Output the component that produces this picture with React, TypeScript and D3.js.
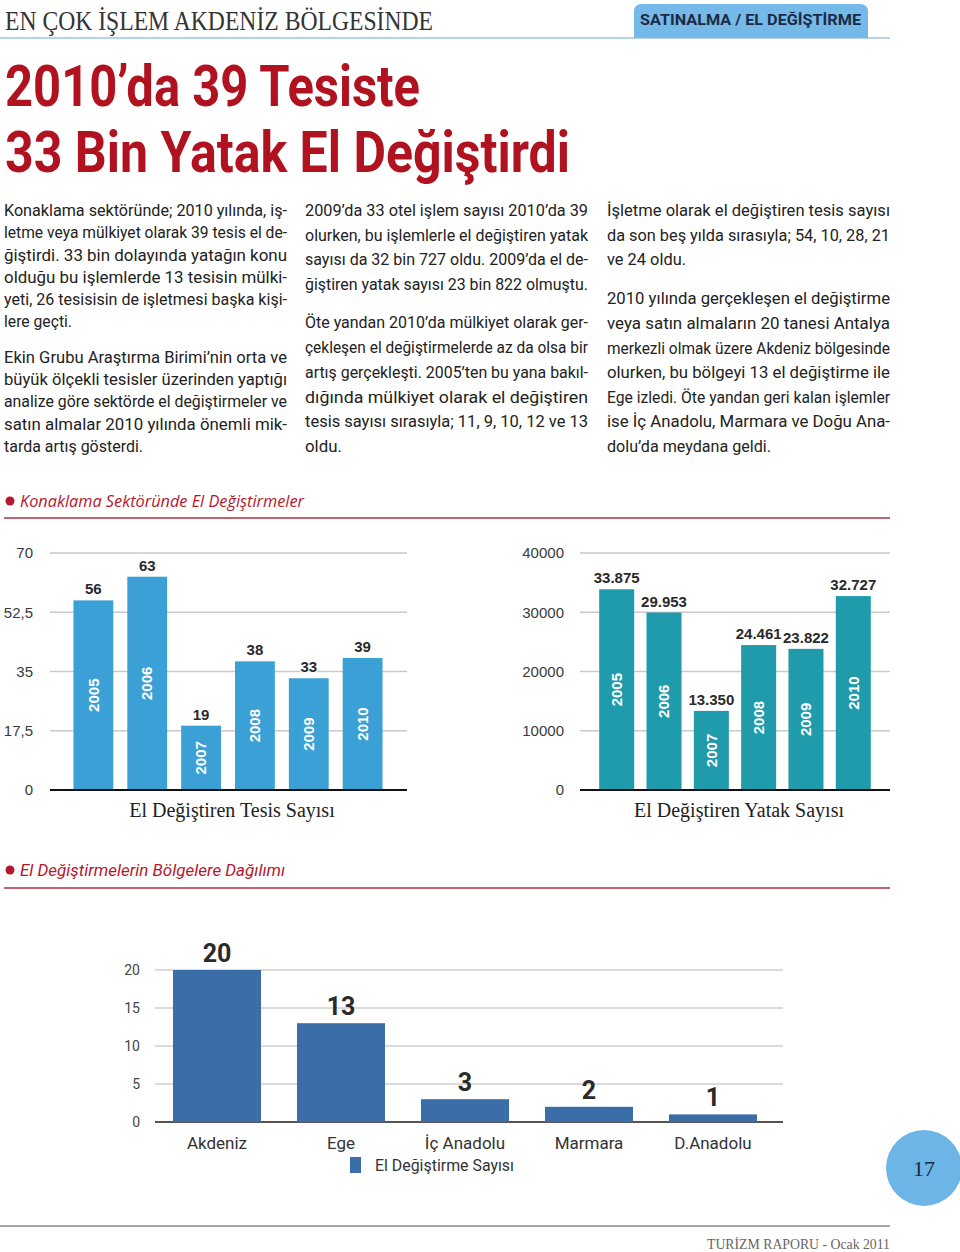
import React from "react";
import * as d3 from "d3";

// ---------- DATA ----------
const years = ["2005", "2006", "2007", "2008", "2009", "2010"];
const tesisValues = [56, 63, 19, 38, 33, 39];
const tesisTicks = [0, 17.5, 35, 52.5, 70];
const yatakValues = [33875, 29953, 13350, 24461, 23822, 32727];
const yatakTicks = [0, 10000, 20000, 30000, 40000];
const regions = ["Akdeniz", "Ege", "İç Anadolu", "Marmara", "D.Anadolu"];
const regionValues = [20, 13, 3, 2, 1];
const regionTicks = [0, 5, 10, 15, 20];

const trLocale = d3.formatLocale({ decimal: ",", thousands: ".", grouping: [3], currency: ["", ""] });
const fmtTick = trLocale.format("~f");
const fmtThousands = trLocale.format(",.0f");

// ---------- TEXT ----------
type Line = { t: string; w?: number };
const col1: Line[][] = [
  [
    { t: "Konaklama sektöründe; 2010 yılında, iş-" },
    { t: "letme veya mülkiyet olarak 39 tesis el de-" },
    { t: "ğiştirdi. 33 bin dolayında yatağın konu" },
    { t: "olduğu bu işlemlerde 13 tesisin mülki-" },
    { t: "yeti, 26 tesisisin de işletmesi başka kişi-" },
    { t: "lere geçti.", w: 68 },
  ],
  [
    { t: "Ekin Grubu Araştırma Birimi’nin orta ve" },
    { t: "büyük ölçekli tesisler üzerinden yaptığı" },
    { t: "analize göre sektörde el değiştirmeler ve" },
    { t: "satın almalar 2010 yılında önemli mik-" },
    { t: "tarda artış gösterdi.", w: 139 },
  ],
];
const col2: Line[][] = [
  [
    { t: "2009’da 33 otel işlem sayısı 2010’da 39" },
    { t: "olurken, bu işlemlerle el değiştiren yatak" },
    { t: "sayısı da 32 bin 727 oldu. 2009’da el de-" },
    { t: "ğiştiren yatak sayısı 23 bin 822 olmuştu." },
  ],
  [
    { t: "Öte yandan 2010’da mülkiyet olarak ger-" },
    { t: "çekleşen el değiştirmelerde az da olsa bir" },
    { t: "artış gerçekleşti. 2005’ten bu yana bakıl-" },
    { t: "dığında mülkiyet olarak el değiştiren" },
    { t: "tesis sayısı sırasıyla; 11, 9, 10, 12 ve 13" },
    { t: "oldu.", w: 37 },
  ],
];
const col3: Line[][] = [
  [
    { t: "İşletme olarak el değiştiren tesis sayısı" },
    { t: "da son beş yılda sırasıyla; 54, 10, 28, 21" },
    { t: "ve 24 oldu.", w: 79 },
  ],
  [
    { t: "2010 yılında gerçekleşen el değiştirme" },
    { t: "veya satın almaların 20 tanesi Antalya" },
    { t: "merkezli olmak üzere Akdeniz bölgesinde" },
    { t: "olurken, bu bölgeyi 13 el değiştirme ile" },
    { t: "Ege izledi. Öte yandan geri kalan işlemler" },
    { t: "ise İç Anadolu, Marmara ve Doğu Ana-" },
    { t: "dolu’da meydana geldi.", w: 164 },
  ],
];

const RED = "#b0131f";
const SEC_RED = "#b5172c";
const RULE_RED = "#c2646d";
const BODY_FONT = "'Liberation Sans Narrow', 'Roboto', sans-serif";
const CHART_FONT = "'Liberation Sans', Arial, sans-serif";
const SERIF = "'Liberation Serif', 'DejaVu Serif', serif";

function Column({ paras, x, width, baselines }: { paras: Line[][]; x: number; width: number; baselines: number[] }) {
  const lines = paras.flat();
  return (
    <g fontFamily={BODY_FONT} fontSize={16.5} fill="#222">
      {lines.map((l, i) => (
        <text key={i} x={x} y={baselines[i]} textLength={l.w ?? width} lengthAdjust="spacingAndGlyphs">
          {l.t}
        </text>
      ))}
    </g>
  );
}

function YearBars({
  values, ticks, yMax, xRange, pi, po, gridX, color, labelFmt, tickX,
}: {
  values: number[]; ticks: number[]; yMax: number; xRange: [number, number]; pi: number; po: number;
  gridX: [number, number]; color: string; labelFmt: (v: number) => string; tickX: number;
}) {
  const y = d3.scaleLinear().domain([0, yMax]).range([790, 553]);
  const x = d3.scaleBand<string>().domain(years).range(xRange).paddingInner(pi).paddingOuter(po);
  return (
    <g fontFamily={CHART_FONT}>
      {ticks.map((t) => (
        <g key={t}>
          {t !== 0 && <line x1={gridX[0]} x2={gridX[1]} y1={y(t)} y2={y(t)} stroke="#c9c9c9" strokeWidth={1.5} />}
          <text x={tickX} y={y(t)} dy="0.35em" textAnchor="end" fontSize={15} fill="#3a3a3a">
            {fmtTick(t)}
          </text>
        </g>
      ))}
      {years.map((yr, i) => {
        const bx = x(yr)!;
        const bw = x.bandwidth();
        const top = y(values[i]);
        const mid = (top + 790) / 2;
        return (
          <g key={yr}>
            <rect x={bx} y={top} width={bw} height={790 - top} fill={color} />
            <text
              x={bx + bw / 2}
              y={top - 6}
              textAnchor="middle"
              fontSize={15}
              fontWeight="bold"
              fill="#2a2a2a"
              stroke="#fff"
              strokeWidth={2}
              paintOrder="stroke"
            >
              {labelFmt(values[i])}
            </text>
            <text
              transform={`translate(${bx + bw / 2},${mid}) rotate(-90)`}
              textAnchor="middle"
              dy="0.35em"
              fontSize={15}
              fontWeight="bold"
              fill="#fff"
            >
              {yr}
            </text>
          </g>
        );
      })}
      <line x1={gridX[0]} x2={gridX[1]} y1={790} y2={790} stroke="#111" strokeWidth={2} />
    </g>
  );
}

function RegionChart() {
  const y = d3.scaleLinear().domain([0, 20]).range([1122, 970]);
  const x = d3.scaleBand<string>().domain(regions).range([155, 775]).paddingInner(0.29).paddingOuter(0.145);
  return (
    <g fontFamily={BODY_FONT}>
      {regionTicks.map((t) => (
        <g key={t}>
          <line x1={155} x2={783} y1={y(t)} y2={y(t)} stroke={t === 0 ? "#555" : "#cfcfcf"} strokeWidth={t === 0 ? 2 : 1.5} />
          <text x={140} y={y(t)} dy="0.35em" textAnchor="end" fontSize={14} fill="#444">
            {t}
          </text>
        </g>
      ))}
      {regions.map((r, i) => {
        const bx = x(r)!;
        const bw = x.bandwidth();
        const top = y(regionValues[i]);
        return (
          <g key={r}>
            <rect x={bx} y={top} width={bw} height={1122 - top} fill="#3b6ea8" />
            <text x={bx + bw / 2} y={top - 8} textAnchor="middle" fontSize={25} fontWeight="bold" fill="#2a2a2a">
              {regionValues[i]}
            </text>
            <text x={bx + bw / 2} y={1149} textAnchor="middle" fontSize={17} fill="#333">
              {r}
            </text>
          </g>
        );
      })}
      <rect x={350} y={1157} width={11} height={16} fill="#3b6ea8" />
      <text x={375} y={1171} fontSize={16} fill="#333" textLength={139} lengthAdjust="spacingAndGlyphs">
        El Değiştirme Sayısı
      </text>
    </g>
  );
}

export default function App() {
  return (
    <div style={{ position: "absolute", left: 0, top: 0 }}>
      <svg width={960} height={1252} viewBox="0 0 960 1252" style={{ display: "block", background: "#fff" }}>
        {/* header */}
        <text x={5} y={30} fontFamily={SERIF} fontSize={27} fill="#333" textLength={428} lengthAdjust="spacingAndGlyphs">
          EN ÇOK İŞLEM AKDENİZ BÖLGESİNDE
        </text>
        <line x1={0} x2={890} y1={38} y2={38} stroke="#9cc6dc" strokeWidth={1.5} />
        <path d="M634,38 L634,12 Q634,4 642,4 L860,4 Q868,4 868,12 L868,38 Z" fill="#74b9e7" />
        <text x={640} y={25} fontFamily="'Roboto', 'DejaVu Sans', sans-serif" fontWeight="bold" fontSize={15} fill="#1c2a45" textLength={221} lengthAdjust="spacingAndGlyphs">
          SATINALMA / EL DEĞİŞTİRME
        </text>

        {/* title */}
        <g fontFamily="'Roboto', 'DejaVu Sans', sans-serif" fontWeight="bold" fontSize={57} fill={RED}>
          <text x={5} y={106} textLength={415} lengthAdjust="spacingAndGlyphs">2010’da 39 Tesiste</text>
          <text x={5} y={172} textLength={565} lengthAdjust="spacingAndGlyphs">33 Bin Yatak El Değiştirdi</text>
        </g>

        {/* body */}
        <Column paras={col1} x={4} width={283} baselines={[216, 238, 261, 283, 305, 327, 363, 385, 407, 430, 452]} />
        <Column paras={col2} x={305} width={283} baselines={[216, 241, 265, 290, 328, 353, 378, 403, 427, 452]} />
        <Column paras={col3} x={607} width={283} baselines={[216, 241, 265, 304, 329, 354, 378, 403, 427, 452]} />

        {/* section 1 */}
        <circle cx={10} cy={501} r={4.5} fill={SEC_RED} />
        <text x={20} y={507} fontFamily="'Open Sans', 'Noto Sans', sans-serif" fontStyle="italic" fontSize={17} fill={SEC_RED} textLength={284} lengthAdjust="spacingAndGlyphs">
          Konaklama Sektöründe El Değiştirmeler
        </text>
        <line x1={4} x2={890} y1={518} y2={518} stroke={RULE_RED} strokeWidth={2} />

        <YearBars
          values={tesisValues}
          ticks={tesisTicks}
          yMax={70}
          xRange={[60, 396]}
          pi={0.26}
          po={0.25}
          gridX={[50, 407]}
          color="#3ba0d6"
          labelFmt={(v) => String(v)}
          tickX={33}
        />
        <text x={232} y={817} textAnchor="middle" fontFamily={SERIF} fontSize={20} fill="#222">
          El Değiştiren Tesis Sayısı
        </text>

        <YearBars
          values={yatakValues}
          ticks={yatakTicks}
          yMax={40000}
          xRange={[585, 885]}
          pi={0.26}
          po={0.3}
          gridX={[580, 890]}
          color="#1f9bab"
          labelFmt={(v) => fmtThousands(v)}
          tickX={564}
        />
        <text x={739} y={817} textAnchor="middle" fontFamily={SERIF} fontSize={20} fill="#222">
          El Değiştiren Yatak Sayısı
        </text>

        {/* section 2 */}
        <circle cx={10} cy={870} r={4.5} fill={SEC_RED} />
        <text x={20} y={876} fontFamily={BODY_FONT} fontStyle="italic" fontSize={17} fill={SEC_RED} textLength={265} lengthAdjust="spacingAndGlyphs">
          El Değiştirmelerin Bölgelere Dağılımı
        </text>
        <line x1={4} x2={890} y1={888} y2={888} stroke={RULE_RED} strokeWidth={2} />

        <RegionChart />

        {/* page number */}
        <circle cx={924} cy={1168} r={38} fill="#6db5e6" />
        <text x={924} y={1168} dy="0.35em" textAnchor="middle" fontFamily={SERIF} fontSize={22} fill="#1e2a3a">
          17
        </text>

        {/* footer */}
        <line x1={0} x2={890} y1={1226} y2={1226} stroke="#888" strokeWidth={1.5} />
        <text x={890} y={1249} textAnchor="end" fontFamily={SERIF} fontSize={14} fill="#666" textLength={183} lengthAdjust="spacingAndGlyphs">
          TURİZM RAPORU - Ocak 2011
        </text>
      </svg>
    </div>
  );
}
